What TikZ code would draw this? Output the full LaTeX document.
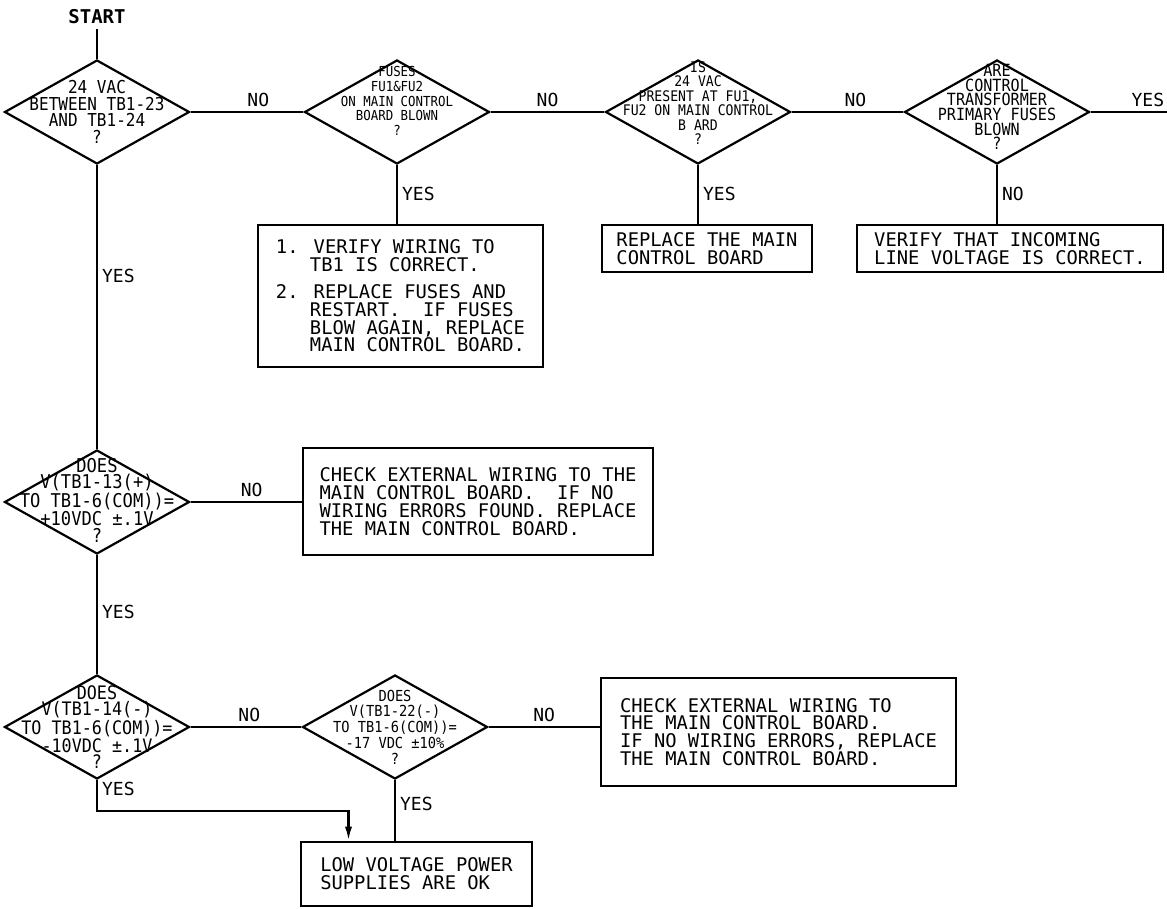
\documentclass[tikz,border=0pt]{standalone}
\usepackage{fontspec}
\setmainfont{DejaVu Sans Mono}
\newfontfamily\narrowcad{DejaVu Sans Mono}[FakeStretch=0.9]
\usetikzlibrary{shapes.geometric,arrows.meta}
\tikzset{
  dec/.style={draw,diamond,minimum width=92.5pt,minimum height=52pt,inner sep=0pt},
  dtext/.style 2 args={align=center,inner sep=0pt,font=\narrowcad\fontsize{#1}{#2}\selectfont},
  actbox/.style={draw,rectangle,line width=1.4pt,align=left,inner sep=0pt,font=\fontsize{9.4}{8.9}\selectfont},
  lbl/.style={font=\fontsize{9}{9}\selectfont,inner sep=2pt}
}
\begin{document}
\begin{tikzpicture}[x=.5pt,y=-.5pt,line width=1.1pt]
\useasboundingbox (0,0) rectangle (1167,909);
\node[lbl,font=\bfseries\fontsize{9.5}{9}\selectfont] (start) at (97,17) {START};
% decisions
\node[dec] (d1) at (97,112) {};
\node[dec] (d2) at (397,112) {};
\node[dec] (d3) at (698,112) {};
\node[dec] (d4) at (997,112) {};
\node[dec] (d5) at (97,502) {};
\node[dec] (d6) at (97,727) {};
\node[dec] (d7) at (395,727) {};
\node[dtext={8.9}{8.3}] (t1) at (d1) {24 VAC\\BETWEEN TB1-23\\AND TB1-24\\?};
\node[dtext={6.9}{7.3},yshift=5.5pt] (t2) at (d2) {FUSES\\FU1\&FU2\\ON MAIN CONTROL\\BOARD BLOWN\\?};
\node[dtext={7.3}{7.2},yshift=4.5pt] (t3) at (d3) {IS\\24 VAC\\PRESENT AT FU1,\\FU2 ON MAIN CONTROL\\B ARD\\?};
\node[dtext={8.4}{7.3},yshift=2.5pt] (t4) at (d4) {ARE\\CONTROL\\TRANSFORMER\\PRIMARY FUSES\\BLOWN\\?};
\node[dtext={9.5}{8.1},yshift=1pt] (t5) at (d5) {DOES\\V(TB1-13(+)\\TO TB1-6(COM))=\\+10VDC ±.1V\\?};
\node[dtext={9.3}{7.9}] (t6) at (d6) {DOES\\V(TB1-14(-)\\TO TB1-6(COM))=\\-10VDC ±.1V\\?};
\node[dtext={7.6}{7.9}] (t7) at (d7) {DOES\\V(TB1-22(-)\\TO TB1-6(COM))=\\-17 VDC ±10\%\\?};
% actions
\node[actbox,minimum width=142.5pt,minimum height=71pt] (b1) at (400.5,296) {1. VERIFY WIRING TO\\\phantom{1.} TB1 IS CORRECT.\\[4.5pt]2. REPLACE FUSES AND\\\phantom{2.} RESTART.\ \ IF FUSES\\\phantom{2.} BLOW AGAIN, REPLACE\\\phantom{2.} MAIN CONTROL BOARD.};
\node[actbox,minimum width=105pt,minimum height=23.5pt] (b2) at (707,248.5) {REPLACE THE MAIN\\CONTROL BOARD};
\node[actbox,minimum width=153pt,minimum height=23.5pt] (b3) at (1010,248.5) {VERIFY THAT INCOMING\\LINE VOLTAGE IS CORRECT.};
\node[actbox,minimum width=175pt,minimum height=53.5pt] (b4) at (478,501.5) {CHECK EXTERNAL WIRING TO THE\\MAIN CONTROL BOARD.\ \ IF NO\\WIRING ERRORS FOUND. REPLACE\\THE MAIN CONTROL BOARD.};
\node[actbox,minimum width=177.5pt,minimum height=54pt] (b5) at (778.5,732) {CHECK EXTERNAL WIRING TO\\THE MAIN CONTROL BOARD.\\IF NO WIRING ERRORS, REPLACE\\THE MAIN CONTROL BOARD.};
\node[actbox,minimum width=115.5pt,minimum height=32pt] (b6) at (416.5,874) {LOW VOLTAGE POWER\\SUPPLIES ARE OK};
\coordinate (exit) at (1167,112);
% flow
\draw (start) -- (d1.north);
\draw (d1.east) -- node[lbl,above,pos=.6] (n1) {NO} (d2.west);
\draw (d2.east) -- node[lbl,above,pos=.5] (n2) {NO} (d3.west);
\draw (d3.east) -- node[lbl,above,pos=.57] (n3) {NO} (d4.west);
\draw (d4.east) -- node[lbl,above,pos=.75] (y4) {YES} (exit);
\draw (d2.south) -- node[lbl,right,pos=.5] (y2) {YES} (d2.south |- b1.north);
\draw (d3.south) -- node[lbl,right,pos=.5] (y3) {YES} (d3.south |- b2.north);
\draw (d4.south) -- node[lbl,right,pos=.5] (n4) {NO} (d4.south |- b3.north);
\draw (d1.south) -- node[lbl,right,pos=.39] (y1) {YES} (d5.north);
\draw (d5.east) -- node[lbl,above,pos=.55] (n5) {NO} (b4.west |- d5.east);
\draw (d5.south) -- node[lbl,right,pos=.48] (y5) {YES} (d6.north);
\draw (d6.east) -- node[lbl,above,pos=.53] (n6) {NO} (d7.west);
\draw (d7.east) -- node[lbl,above,pos=.5] (n7) {NO} (b5.west |- d7.east);
\draw (d7.south) -- node[lbl,right,pos=.4] (y7) {YES} (d7.south |- b6.north);
\draw[-{Latex[length=7pt,width=3.6pt]}] (d6.south) -- node[lbl,right,pos=.3] (y6) {YES} ++(0,31) -| ([xshift=-34pt]b6.north);
\end{tikzpicture}
\end{document}
